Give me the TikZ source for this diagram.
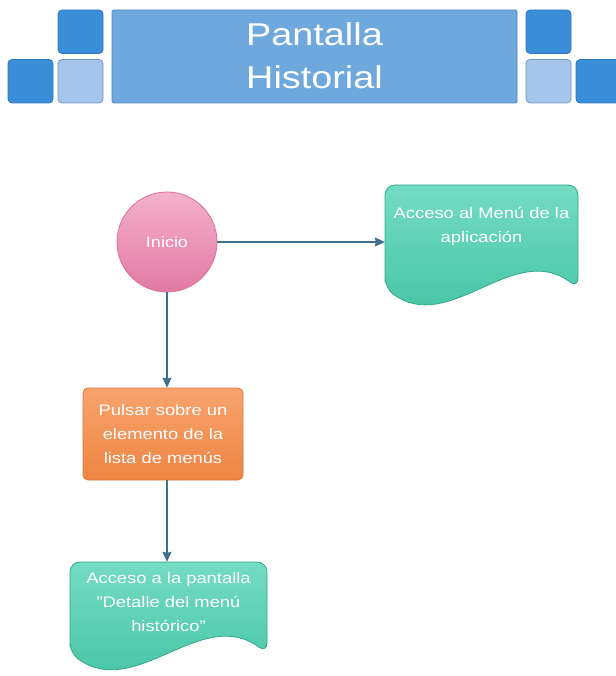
\documentclass[tikz,border=0pt]{standalone}
\usepackage{fontspec}
\setmainfont{Liberation Sans}[FakeStretch=1.2]
\usetikzlibrary{arrows.meta,calc}

\definecolor{sqdark}{HTML}{3A8ED8}
\definecolor{sqdarkline}{HTML}{2F78BC}
\definecolor{sqlight}{HTML}{A6C5EA}
\definecolor{sqlightline}{HTML}{6F97C4}
\definecolor{titlefill}{HTML}{6FA8DC}
\definecolor{titleline}{HTML}{4F86BE}
\definecolor{pinktop}{HTML}{F4B0CB}
\definecolor{pinkbot}{HTML}{E27AA3}
\definecolor{pinkline}{HTML}{D8709A}
\definecolor{greentop}{HTML}{74DCC3}
\definecolor{greenbot}{HTML}{3FC19F}
\definecolor{greenline}{HTML}{2FA98A}
\definecolor{orangetop}{HTML}{F7A46E}
\definecolor{orangebot}{HTML}{EE8442}
\definecolor{orangeline}{HTML}{E07434}
\definecolor{flowline}{HTML}{3F6F8C}

\tikzset{
  headsq/.style={rounded corners=4pt, minimum width=45pt, minimum height=43.5pt,
    inner sep=0pt, line width=0.8pt},
  darksq/.style={headsq, fill=sqdark, draw=sqdarkline},
  lightsq/.style={headsq, fill=sqlight, draw=sqlightline},
  titlebox/.style={rounded corners=1.5pt, minimum width=405pt, minimum height=93pt,
    fill=titlefill, draw=titleline, line width=0.8pt, inner sep=0pt},
  titletext/.style={text=white, align=center, inner sep=0pt,
    font=\fontsize{31.5}{43}\selectfont},
  startcircle/.style={circle, minimum size=100pt, inner sep=0pt,
    top color=pinktop, bottom color=pinkbot, draw=pinkline, line width=0.8pt,
    text=white, font=\fontsize{15}{18}\selectfont},
  boxtext/.style={text=white, align=center, inner sep=0pt,
    font=\fontsize{15.3}{24}\selectfont},
  actionbox/.style={rounded corners=5pt, minimum width=160pt, minimum height=92pt,
    top color=orangetop, bottom color=orangebot, draw=orangeline, line width=0.8pt,
    boxtext},
  docbox/.style={rounded corners=10pt, top color=greentop, bottom color=greenbot,
    draw=greenline, line width=0.8pt},
  flow/.style={draw=flowline, line width=1.1pt,
    -{Stealth[length=10pt, width=9pt, inset=1pt]}},
}

% document shape: left x, top y, right x, y where the wavy bottom starts
\newcommand{\docshape}[4]{%
  \path[docbox] (#1,#4) -- (#1,#2) -- (#3,#2) -- (#3,#4)
    .. controls ($(#3,#4)!1/3!(#1,#4)+(0,-48)$) and ($(#3,#4)!2/3!(#1,#4)+(0,48)$)
    .. (#1,#4) -- cycle;}

\begin{document}
\begin{tikzpicture}[x=1pt, y=-1pt]
  \useasboundingbox (0,0) rectangle (615,676);

  % header band
  \node[darksq]  (sqlb) at (30.5,81.25) {};
  \node[darksq]  (sqlt) at (80.5,31.75) {};
  \node[lightsq] (sqll) at (80.5,81.25) {};
  \node[titlebox] (titlebg) at (314.5,56.5) {};
  \node[titletext] (title) at (314.5,55.5) {Pantalla\\Historial};
  \node[darksq]  (sqrt) at (548.5,31.75) {};
  \node[lightsq] (sqrl) at (548.5,81.25) {};
  \node[darksq]  (sqrb) at (598.5,81.25) {};

  % flow shapes
  \docshape{385}{185}{578}{288}
  \docshape{70}{562}{267}{653}

  \node[startcircle] (inicio) at (167,242) {Inicio};
  \node[boxtext, minimum width=193pt] (menu) at (481.5,226)
    {Acceso al Menú de la\\aplicación};
  \node[actionbox] (pulsar) at (163,434)
    {Pulsar sobre un\\elemento de la\\lista de menús};
  \node[boxtext, minimum width=197pt, minimum height=80pt] (detalle) at (168.5,602)
    {Acceso a la pantalla\\"Detalle del menú\\histórico"};

  % connectors
  \draw[flow] (inicio.east) -- (inicio.east -| menu.west);
  \draw[flow] (inicio.south) -- (inicio.south |- pulsar.north);
  \draw[flow] (pulsar.south -| inicio.south) -- (inicio.south |- detalle.north);
\end{tikzpicture}
\end{document}
